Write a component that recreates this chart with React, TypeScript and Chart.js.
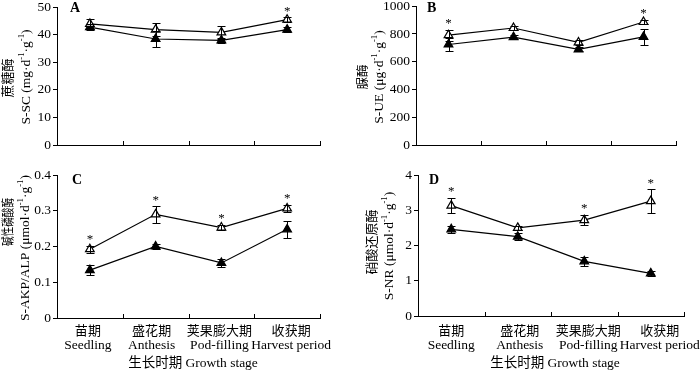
import React, { useEffect, useRef } from 'react';
import { Chart, registerables } from 'chart.js';

Chart.register(...registerables);

const FONT = "'Liberation Serif', 'Times New Roman', 'Noto Sans CJK SC', serif";

// ---- categories ----
const stageCN = ['苗期', '盛花期', '荚果膨大期', '收获期'];
const stageEN = ['Seedling', 'Anthesis', 'Pod-filling', 'Harvest period'];
const xAxisTitle = '生长时期 Growth stage';

// ---- A: sucrase ----
const scOpen = [43.9, 41.8, 40.8, 45.4];
const scOpenErr = [1.9, 2.4, 2.3, 0.8];
const scFilled = [42.7, 38.4, 37.9, 41.8];
const scFilledErr = [1.0, 2.9, 1.0, 1.0];
const scSig = [false, false, false, true];
const scTicks = [0, 10, 20, 30, 40, 50];

// ---- B: urease ----
const ueOpen = [791, 843, 739, 886];
const ueOpenErr = [40, 15, 20, 15];
const ueFilled = [724, 777, 689, 779];
const ueFilledErr = [47, 15, 15, 57];
const ueSig = [true, false, false, true];
const ueTicks = [0, 200, 400, 600, 800, 1000];

// ---- C: alkaline phosphatase ----
const akpOpen = [0.1925, 0.29, 0.253, 0.3065];
const akpOpenErr = [0.01, 0.023, 0.008, 0.01];
const akpFilled = [0.134, 0.2, 0.154, 0.248];
const akpFilledErr = [0.015, 0.007, 0.01, 0.023];
const akpSig = [true, true, true, true];
const akpTicks = [0, 0.1, 0.2, 0.3, 0.4];

// ---- D: nitrate reductase ----
const nrOpen = [3.13, 2.5, 2.72, 3.26];
const nrOpenErr = [0.22, 0.06, 0.15, 0.33];
const nrFilled = [2.46, 2.25, 1.55, 1.21];
const nrFilledErr = [0.1, 0.1, 0.12, 0.08];
const nrSig = [true, false, true, true];
const nrTicks = [0, 1, 2, 3, 4];

type Panel = {
  letter: string;
  x0: number; y0: number; w: number; h: number;
  area: { l: number; r: number; t: number; b: number };
  letterPos: { x: number; y: number };
  cn: { text: string; x: number; y: number; size: number; squeeze?: number };
  en: { text: string; x: number; y: number; size: number };
  xTitle?: { x: number; y: number };
  xLabels?: { cnY: number; enY: number; shift: number[] };
  open: number[]; openErr: number[]; filled: number[]; filledErr: number[]; sig: boolean[]; ticks: number[];
};

const panels: Panel[] = [
  {
    letter: 'A', x0: 0, y0: 0, w: 350, h: 165,
    area: { l: 57, r: 320, t: 7, b: 145 },
    letterPos: { x: 70, y: 12 },
    cn: { text: '蔗糖酶', x: 9, y: 78, size: 13 },
    en: { text: 'S-SC (mg·d^{-1}·g^{-1})', x: 26, y: 77, size: 13.5 },
    open: scOpen, openErr: scOpenErr, filled: scFilled, filledErr: scFilledErr, sig: scSig, ticks: scTicks,
  },
  {
    letter: 'B', x0: 350, y0: 0, w: 350, h: 165,
    area: { l: 416, r: 676, t: 5, b: 145 },
    letterPos: { x: 427, y: 12 },
    cn: { text: '脲酶', x: 364, y: 77, size: 12.5 },
    en: { text: 'S-UE (μg·d^{-1}·g^{-1})', x: 379, y: 77, size: 13.5 },
    open: ueOpen, openErr: ueOpenErr, filled: ueFilled, filledErr: ueFilledErr, sig: ueSig, ticks: ueTicks,
  },
  {
    letter: 'C', x0: 0, y0: 165, w: 350, h: 209,
    area: { l: 57, r: 320, t: 175, b: 318 },
    letterPos: { x: 72, y: 184 },
    cn: { text: '碱性磷酸酶', x: 9, y: 222, size: 13, squeeze: 0.74 },
    en: { text: 'S-AKP/ALP (μmol·d^{-1}·g^{-1})', x: 25, y: 248, size: 13.5 },
    xTitle: { x: 193, y: 363 },
    xLabels: { cnY: 332, enY: 345.5, shift: [-2, -4, -2, 4] },
    open: akpOpen, openErr: akpOpenErr, filled: akpFilled, filledErr: akpFilledErr, sig: akpSig, ticks: akpTicks,
  },
  {
    letter: 'D', x0: 350, y0: 165, w: 350, h: 209,
    area: { l: 418, r: 684, t: 175, b: 316 },
    letterPos: { x: 429, y: 184 },
    cn: { text: '硝酸还原酶', x: 373, y: 242, size: 13 },
    en: { text: 'S-NR (μmol·d^{-1}·g^{-1})', x: 389, y: 246, size: 13.5 },
    xTitle: { x: 555, y: 363 },
    xLabels: { cnY: 332, enY: 345.5, shift: [0, 2, 4, 9] },
    open: nrOpen, openErr: nrOpenErr, filled: nrFilled, filledErr: nrFilledErr, sig: nrSig, ticks: nrTicks,
  },
];

function drawRich(ctx: CanvasRenderingContext2D, text: string, x: number, y: number, size: number, rotate: boolean, squeeze = 1) {
  const parts: { t: string; sup: boolean }[] = [];
  const re = /\^\{([^}]*)\}/g;
  let last = 0;
  let m: RegExpExecArray | null;
  while ((m = re.exec(text))) {
    if (m.index > last) parts.push({ t: text.slice(last, m.index), sup: false });
    parts.push({ t: m[1], sup: true });
    last = re.lastIndex;
  }
  if (last < text.length) parts.push({ t: text.slice(last), sup: false });
  const supSize = size * 0.65;
  const widths = parts.map((pt) => {
    ctx.font = `${pt.sup ? supSize : size}px ${FONT}`;
    return ctx.measureText(pt.t).width;
  });
  const total = widths.reduce((a, b) => a + b, 0);
  ctx.save();
  ctx.translate(x, y);
  if (rotate) ctx.rotate(-Math.PI / 2);
  ctx.scale(squeeze, 1);
  ctx.textBaseline = 'middle';
  ctx.textAlign = 'left';
  ctx.fillStyle = '#000';
  let cx = -total / 2;
  parts.forEach((pt, i) => {
    ctx.font = `${pt.sup ? supSize : size}px ${FONT}`;
    ctx.fillText(pt.t, cx, pt.sup ? -size * 0.32 : 0);
    cx += widths[i];
  });
  ctx.restore();
}

function decor(p: Panel) {
  return {
    id: 'decor' + p.letter,
    afterDraw(chart: any) {
      const ctx: CanvasRenderingContext2D = chart.ctx;
      const xs = chart.scales.x;
      const ys = chart.scales.y;
      const a = chart.chartArea;
      ctx.save();
      ctx.strokeStyle = '#000';
      ctx.lineWidth = 1;
      // error bars
      const series: [number[], number[]][] = [[p.open, p.openErr], [p.filled, p.filledErr]];
      series.forEach(([vals, errs]) => {
        vals.forEach((v, i) => {
          const x = Math.round(xs.getPixelForValue(i)) + 0.5;
          const y1 = Math.round(ys.getPixelForValue(v + errs[i])) + 0.5;
          const y2 = Math.round(ys.getPixelForValue(v - errs[i])) + 0.5;
          ctx.beginPath();
          ctx.moveTo(x, y1); ctx.lineTo(x, y2);
          ctx.moveTo(x - 4, y1); ctx.lineTo(x + 4, y1);
          ctx.moveTo(x - 4, y2); ctx.lineTo(x + 4, y2);
          ctx.stroke();
        });
      });
      // category boundary ticks (inward)
      for (let i = 1; i <= stageCN.length; i++) {
        const x = Math.round(a.left + ((a.right - a.left) * i) / stageCN.length) + 0.5;
        ctx.beginPath();
        ctx.moveTo(x, a.bottom);
        ctx.lineTo(x, a.bottom - 4);
        ctx.stroke();
      }
      // significance asterisks
      ctx.fillStyle = '#000';
      ctx.font = `13px ${FONT}`;
      ctx.textAlign = 'center';
      ctx.textBaseline = 'alphabetic';
      p.sig.forEach((s, i) => {
        if (!s) return;
        const x = xs.getPixelForValue(i);
        const y = ys.getPixelForValue(p.open[i] + p.openErr[i]);
        ctx.fillText('*', x, y - 2.5);
      });
      // category labels
      if (p.xLabels) {
        const xl = p.xLabels;
        ctx.textBaseline = 'middle';
        ctx.textAlign = 'center';
        stageCN.forEach((c, i) => {
          const x = xs.getPixelForValue(i) + xl.shift[i];
          ctx.font = `13px ${FONT}`;
          ctx.fillText(c, x, xl.cnY - p.y0);
          ctx.font = `13.5px ${FONT}`;
          ctx.fillText(stageEN[i], x, xl.enY - p.y0);
        });
      }
      // panel letter
      ctx.font = `bold 14px ${FONT}`;
      ctx.textAlign = 'left';
      ctx.textBaseline = 'alphabetic';
      ctx.fillText(p.letter, p.letterPos.x - p.x0, p.letterPos.y - p.y0);
      ctx.restore();
      // axis titles
      drawRich(ctx, p.cn.text, p.cn.x - p.x0, p.cn.y - p.y0, p.cn.size, true, p.cn.squeeze || 1);
      drawRich(ctx, p.en.text, p.en.x - p.x0, p.en.y - p.y0, p.en.size, true);
      if (p.xTitle) drawRich(ctx, xAxisTitle, p.xTitle.x - p.x0, p.xTitle.y - p.y0, 13.5, false);
    },
  };
}

function buildConfig(p: Panel): any {
  const left = p.area.l - p.x0;
  const right = p.area.r - p.x0;
  const top = p.area.t - p.y0;
  const bottom = p.area.b - p.y0;
  const common = {
    borderColor: '#000',
    borderWidth: 1.2,
    pointStyle: 'triangle',
    pointRadius: 5,
    pointHoverRadius: 5,
    pointBorderColor: '#000',
    pointBorderWidth: 1.2,
    tension: 0,
    clip: false,
    fill: false,
  };
  return {
    type: 'line',
    data: {
      labels: stageEN,
      datasets: [
        { ...common, label: 'open', data: p.open, pointBackgroundColor: '#fff' },
        { ...common, label: 'filled', data: p.filled, pointBackgroundColor: '#000' },
      ],
    },
    options: {
      responsive: false,
      animation: false,
      events: [],
      layout: { padding: { left: 0, top, right: p.w - right, bottom: 0 } },
      plugins: { legend: { display: false }, tooltip: { enabled: false }, title: { display: false } },
      scales: {
        x: {
          type: 'category',
          offset: true,
          grid: { display: false, drawTicks: false },
          border: { display: true, color: '#000', width: 1 },
          ticks: { display: false },
          afterFit: (s: any) => {
            s.height = p.h - bottom;
            s.paddingLeft = 0;
            s.paddingRight = 0;
          },
        },
        y: {
          type: 'linear',
          min: p.ticks[0],
          max: p.ticks[p.ticks.length - 1],
          afterBuildTicks: (s: any) => {
            s.ticks = p.ticks.map((v) => ({ value: v }));
          },
          ticks: {
            color: '#000',
            font: { family: FONT, size: 13.5, lineHeight: 1 },
            padding: 2,
            callback: (v: any) => String(v),
          },
          grid: { display: true, drawOnChartArea: false, drawTicks: true, tickLength: 4, color: '#000', lineWidth: 1 },
          border: { display: true, color: '#000', width: 1 },
          afterFit: (s: any) => {
            s.width = left;
            s.paddingTop = 0;
            s.paddingBottom = 0;
          },
        },
      },
    },
    plugins: [decor(p)],
  };
}

function PanelChart({ p }: { p: Panel }) {
  const ref = useRef<HTMLCanvasElement | null>(null);
  useEffect(() => {
    if (!ref.current) return;
    const chart = new Chart(ref.current, buildConfig(p));
    return () => chart.destroy();
  }, [p]);
  return (
    <canvas
      ref={ref}
      width={p.w}
      height={p.h}
      style={{ position: 'absolute', left: p.x0, top: p.y0, width: p.w, height: p.h }}
    />
  );
}

export default function App() {
  return (
    <div style={{ position: 'absolute', left: 0, top: 0, width: 700, height: 374, background: '#fff' }}>
      {panels.map((p) => (
        <PanelChart key={p.letter} p={p} />
      ))}
    </div>
  );
}
